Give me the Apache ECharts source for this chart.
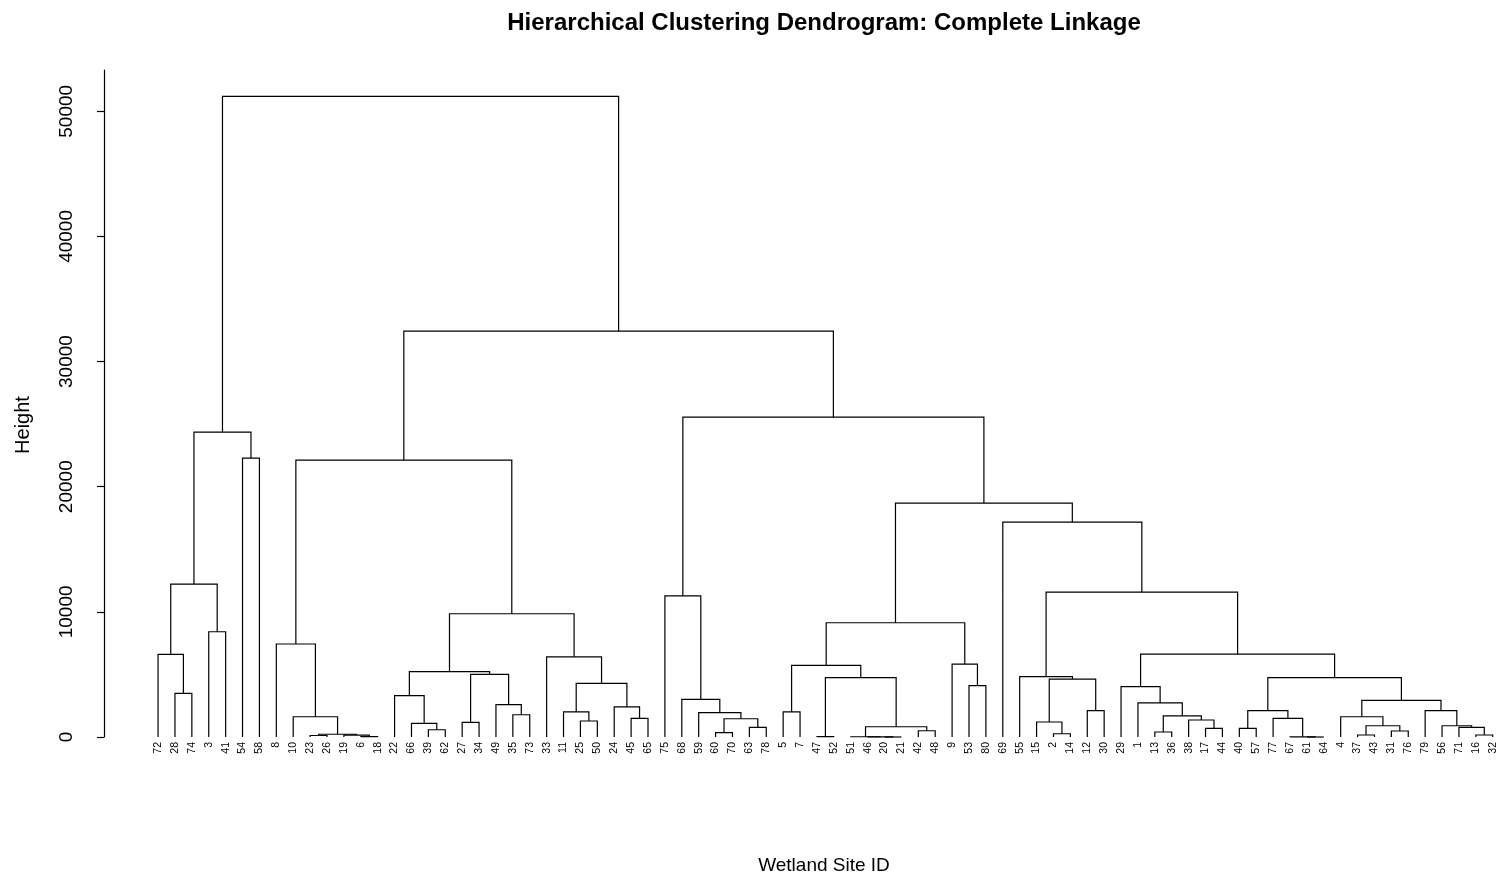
<!DOCTYPE html>
<html>
<head>
<meta charset="utf-8">
<script src="https://cdn.jsdelivr.net/npm/echarts@6/dist/echarts.min.js"></script>
<style>
html,body{margin:0;padding:0;background:#fff;}
#chart{width:1501px;height:879px;}
</style>
</head>
<body>
<div id="chart"></div>
<script>
// Leaf order (left to right) as printed under the dendrogram
const leafLabels = ['72','28','74','3','41','54','58','8','10','23','26','19','6','18','22','66','39','62','27','34','49','35','73','33','11','25','50','24','45','65','75','68','59','60','70','63','78','5','7','47','52','51','46','20','21','42','48','9','53','80','69','55','15','2','14','12','30','29','1','13','36','38','17','44','40','57','77','67','61','64','4','37','43','31','76','79','56','71','16','32'];

// Merge table (R hclust style): negative = leaf site ID, positive = earlier merge (1-based)
const mergeLeft = [-28,-72,-3,2,-54,4,-23,-6,-19,7,-10,-8,-39,-66,-22,-27,-35,-49,16,15,-25,-11,-45,-24,22,-33,20,12,-60,-63,29,-59,-68,-75,-5,-47,-20,-46,-51,-42,39,36,35,-53,-9,43,-2,-15,-12,48,-55,-13,-17,-38,52,-1,-29,-40,-61,-67,-77,58,-37,-31,63,-4,-16,-71,-56,-79,66,62,57,51,-69,46,34,28,6];
const mergeRight = [-74,1,-41,3,-58,5,-26,-18,8,9,10,11,-62,13,14,-34,-73,17,18,19,-50,21,-65,23,24,25,26,27,-70,-78,30,31,32,33,-7,-52,-21,37,38,-48,40,41,42,-80,44,45,-14,47,-30,49,50,-36,-44,53,54,55,56,-57,-64,59,60,61,-43,-76,64,65,-32,67,68,69,70,71,72,73,74,75,76,77,78];
const mergeHeight = [3490,6600,8410,12220,22280,24360,120,30,150,220,1620,7430,580,1090,3300,1170,1780,2580,5000,5220,1280,2000,1490,2400,4290,6410,9850,22120,350,770,1460,1940,3010,11270,2000,30,0,10,20,500,820,4740,5730,4100,5830,9130,260,1200,2100,4630,4820,400,690,1360,1690,2730,4020,690,0,10,1490,2100,160,480,900,1620,160,770,900,2110,2920,4740,6620,11570,17170,18690,25560,32430,51200];

// Y-axis ticks
const yTicks = [0,10000,20000,30000,40000,50000];

// ---- derive node positions from the merge table ----
const leafPos = {};
leafLabels.forEach((l, i) => { leafPos['-' + l] = i; });
const nodeX = [], nodeH = [];
function childInfo(c) {
  if (c < 0) return [leafPos[String(c)], 0];
  return [nodeX[c - 1], nodeH[c - 1]];
}
for (let m = 0; m < mergeHeight.length; m++) {
  const a = childInfo(mergeLeft[m]), b = childInfo(mergeRight[m]);
  nodeX.push((a[0] + b[0]) / 2);
  nodeH.push(mergeHeight[m]);
}
const mergeData = mergeHeight.map((h, m) => [nodeX[m], h, m]);
const leafData = leafLabels.map((l, i) => [i, 0, l]);

const chart = echarts.init(document.getElementById('chart'), null, {renderer: 'canvas'});
const FONT = 'Liberation Sans, Arial, sans-serif';

chart.setOption({
  backgroundColor: '#ffffff',
  animation: false,
  graphic: [
    {type: 'text', x: 824, y: 23, style: {text: 'Hierarchical Clustering Dendrogram: Complete Linkage',
      fontFamily: FONT, fontSize: 24, fontWeight: 'bold', fill: '#000', align: 'center', verticalAlign: 'middle'}},
    {type: 'text', x: 824, y: 866, style: {text: 'Wetland Site ID',
      fontFamily: FONT, fontSize: 19, fill: '#000', align: 'center', verticalAlign: 'middle'}},
    {type: 'text', x: 23, y: 425, rotation: Math.PI / 2, style: {text: 'Height',
      fontFamily: FONT, fontSize: 20, fill: '#000', align: 'center', verticalAlign: 'middle'}}
  ],
  grid: {left: 104, top: 70, width: 1393.8, height: 667, containLabel: false},
  xAxis: {type: 'value', min: -3.2, max: 79.3, show: false},
  yAxis: {
    type: 'value', min: 0, max: 53300, interval: 10000,
    axisLine: {show: true, onZero: false, lineStyle: {color: '#000', width: 1.2}},
    axisTick: {show: true, length: 7, customValues: yTicks, lineStyle: {color: '#000', width: 1.2}},
    splitLine: {show: false},
    axisLabel: {rotate: 90, margin: 28, fontFamily: FONT, fontSize: 19, color: '#000',
      customValues: yTicks, formatter: v => String(v)}
  },
  series: [
    {
      type: 'custom',
      data: mergeData,
      encode: {x: 0, y: 1},
      silent: true,
      renderItem: function (params, api) {
        const m = api.value(2);
        const a = childInfo(mergeLeft[m]), b = childInfo(mergeRight[m]);
        const h = mergeHeight[m];
        const p1 = api.coord([a[0], a[1]]), p2 = api.coord([a[0], h]);
        const p3 = api.coord([b[0], h]), p4 = api.coord([b[0], b[1]]);
        return {
          type: 'polyline',
          shape: {points: [p1, p2, p3, p4]},
          style: {stroke: '#000', lineWidth: 1.2, fill: null}
        };
      }
    },
    {
      type: 'custom',
      data: leafData,
      encode: {x: 0, y: 1},
      silent: true,
      renderItem: function (params, api) {
        const p = api.coord([api.value(0), 0]);
        return {
          type: 'text',
          x: p[0], y: p[1] + 5,
          rotation: Math.PI / 2,
          style: {text: leafLabels[params.dataIndex], fontFamily: FONT, fontSize: 10.5,
                  fill: '#000', align: 'right', verticalAlign: 'middle'}
        };
      }
    }
  ]
});
</script>
</body>
</html>
